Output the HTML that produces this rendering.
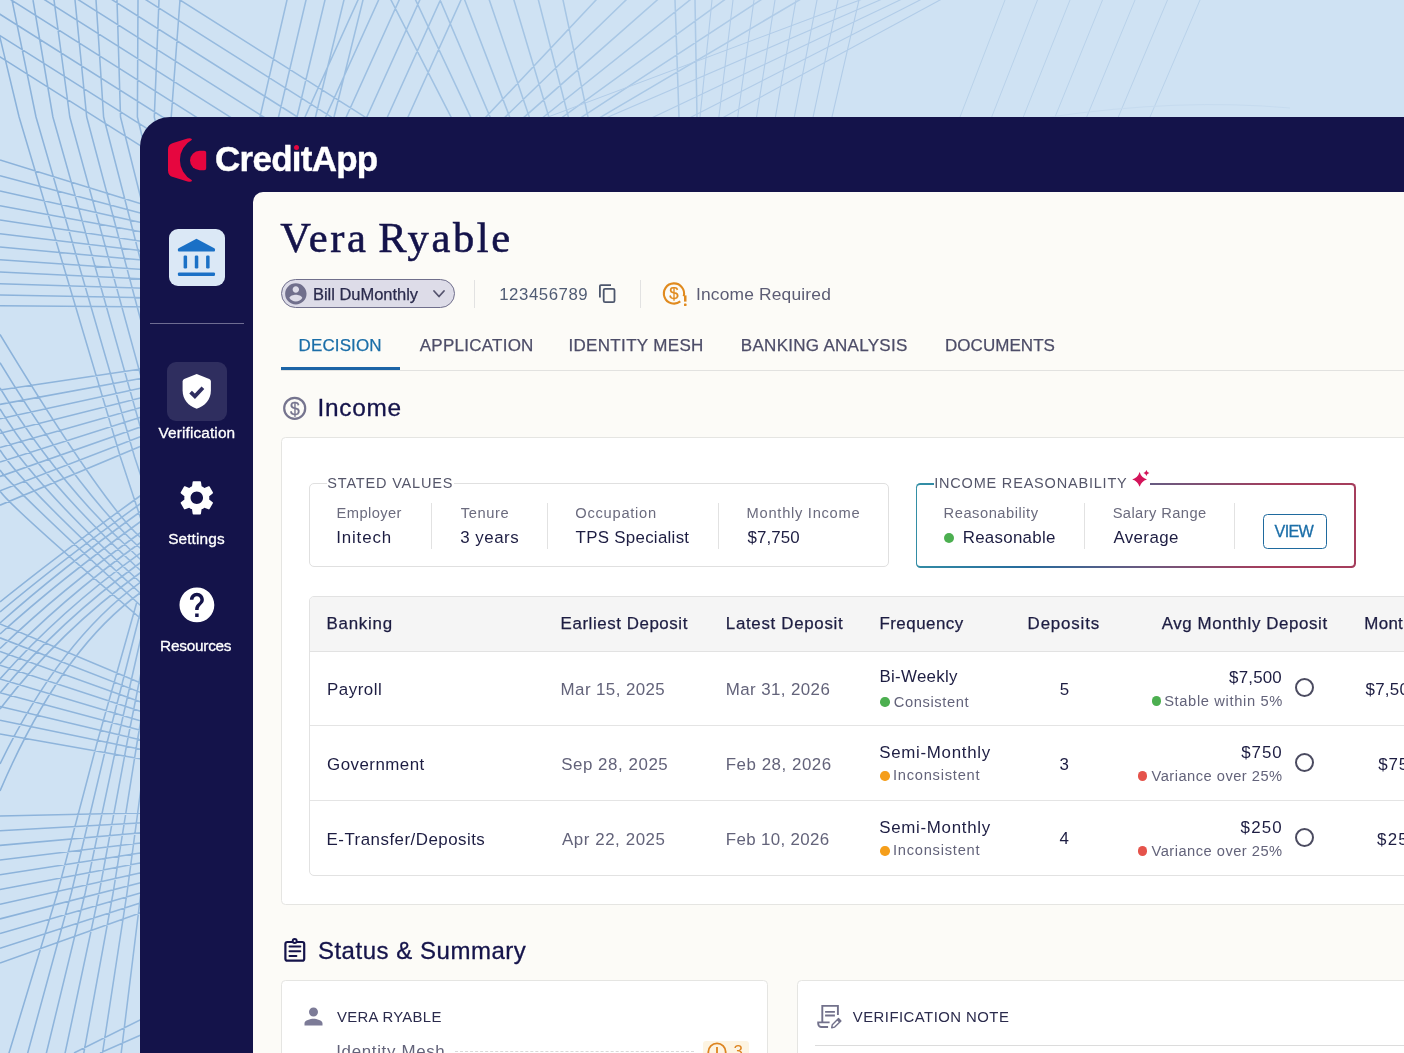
<!DOCTYPE html>
<html lang="en"><head><meta charset="utf-8"><title>CreditApp - Vera Ryable</title>
<style>
html,body{margin:0;padding:0;background:#cfe2f3;}
body{width:1404px;height:1053px;overflow:hidden;position:relative;font-family:"Liberation Sans",sans-serif;}
#app{position:absolute;left:0;top:0;width:1404px;height:1053px;overflow:hidden;}
.t{position:absolute;white-space:nowrap;line-height:1;}
.b{position:absolute;box-sizing:border-box;}
.card{position:absolute;box-sizing:border-box;background:#fff;border:1px solid #e5e5e2;border-radius:4.500px;}
.vs{position:absolute;width:1px;background:#e2e2e2;}
.dot{position:absolute;border-radius:50%;}
.radio{position:absolute;box-sizing:border-box;width:19.100px;height:19.100px;border:2px solid #4b4b60;border-radius:50%;}
svg{position:absolute;overflow:visible;}
</style></head><body><div id="app">

<svg style="left:0;top:0" width="1404" height="1053" viewBox="0 0 1404 1053"><defs><linearGradient id="lg" gradientUnits="userSpaceOnUse" x1="0" y1="0" x2="1000" y2="0"><stop offset="0" stop-color="#8bb2da"/><stop offset="0.300" stop-color="#9abde0"/><stop offset="0.600" stop-color="#a8c7e5"/><stop offset="1" stop-color="#bad2eb"/></linearGradient></defs><path d="M0.0 160.0L161.0 210.0M0.0 175.8L161.0 218.5M0.0 191.0L161.0 227.0M0.0 205.8L161.0 235.6M0.0 220.0L161.0 244.3M0.0 233.8L161.0 253.0M0.0 247.0L161.0 261.8M0.0 259.8L161.0 270.7M0.0 272.0L161.0 279.7M0.0 283.8L161.0 288.8M0.0 295.0L161.0 297.9M0.0 305.8L161.0 307.1M0.0 390.0L161.0 365.9M0.0 404.4L161.0 374.8M0.0 418.8L161.0 383.8M0.0 433.2L161.0 392.8M0.0 447.6L161.0 401.8M0.0 462.0L161.0 410.8M0.0 476.4L161.0 419.8M0.0 490.8L161.0 428.8M0.0 505.2L161.0 437.8M0.0 624.0L161.0 691.5M0.0 637.8L161.0 700.4M0.0 651.5L161.0 709.2M0.0 665.2L161.0 718.1M0.0 679.0L161.0 727.0M0.0 692.8L161.0 735.8M0.0 706.5L161.0 744.7M0.0 720.2L161.0 753.5M0.0 734.0L161.0 762.4M0.0 816.0L161.0 812.5M0.0 830.7L161.0 821.8M0.0 845.4L161.0 831.1M0.0 860.1L161.0 840.4M0.0 874.8L161.0 849.7M0.0 889.5L161.0 859.0M0.0 904.2L161.0 868.3M0.0 918.9L161.0 877.6M0.0 933.6L161.0 886.9M0.0 948.3L161.0 896.2M0.0 963.0L161.0 905.5M74.0 1053.0L150.0 1015.0M100.0 1053.0L150.0 1031.0M-182.5 -58.5L206.0 187.2M-148.8 -58.5L239.8 187.2M-115.0 -58.5L273.5 187.2M-81.2 -58.5L307.2 187.2M-47.5 -58.5L341.0 187.2M-13.8 -58.5L374.8 187.2M20.0 -58.5L408.5 187.2M53.8 -58.5L442.2 187.2M87.5 -58.5L476.0 187.2M300.5 -58.5L243.8 187.2M319.8 -58.5L262.0 187.2M339.0 -58.5L280.2 187.2M358.2 -58.5L298.4 187.2M377.5 -58.5L316.6 187.2M384.5 -58.5L273.2 187.2M405.1 -58.5L293.8 187.2M425.7 -58.5L314.4 187.2M446.3 -58.5L335.0 187.2M466.9 -58.5L355.6 187.2M487.5 -58.5L376.2 187.2M361.0 -58.5L487.0 187.2M388.1 -58.5L503.6 187.2M415.1 -58.5L520.1 187.2M442.2 -58.5L536.7 187.2M469.3 -58.5L553.3 187.2M496.4 -58.5L569.9 187.2M523.4 -58.5L586.4 187.2M550.5 -58.5L603.0 187.2M651.0 -58.5L420.0 187.2M677.4 -49.8L436.3 183.7M703.8 -41.0L452.5 180.2M730.2 -32.2L468.8 176.7M756.7 -23.5L485.1 173.2M783.1 -14.7L501.3 169.7M809.5 -6.0L517.6 166.2M673.0 -58.5L681.4 187.2M694.0 -58.5L698.2 187.2M-9.0 0.0L19.1 117.0L120.4 457.0L186.4 657.0M12.0 0.0L36.0 117.0L134.6 457.0L200.6 657.0M33.0 0.0L52.9 117.0L148.8 457.0L214.8 657.0M54.0 0.0L69.8 117.0L163.0 457.0L229.0 657.0M75.0 0.0L86.7 117.0L177.1 457.0L243.1 657.0M96.0 0.0L103.6 117.0L191.3 457.0L257.3 657.0M117.0 0.0L120.5 117.0L205.5 457.0L271.5 657.0M138.0 0.0L137.4 117.0L219.7 457.0L285.7 657.0M159.0 0.0L154.3 117.0L233.9 457.0L299.9 657.0M180.0 0.0L171.2 117.0L248.0 457.0L314.0 657.0M136.6 603.0L97.0 743.0L57.4 893.0L9.0 1053.0L4.6 1070.0M142.7 603.0L107.0 743.0L71.3 893.0L27.7 1053.0L23.7 1070.0M148.8 603.0L117.0 743.0L85.2 893.0L46.4 1053.0L42.9 1070.0M154.9 603.0L127.0 743.0L99.1 893.0L65.1 1053.0L62.0 1070.0M160.9 603.0L137.0 743.0L113.1 893.0L83.8 1053.0L81.1 1070.0M167.0 603.0L147.0 743.0L127.0 893.0L102.5 1053.0L100.3 1070.0M173.1 603.0L157.0 743.0L140.9 893.0L121.2 1053.0L119.4 1070.0M0 334.5Q101.0 501.1 140 537.0L170 564.6M0 362.7Q77.4 490.4 140 548.0L170 575.6M0 388.0Q57.8 483.4 140 559.0L170 586.6M0 409.0Q44.1 481.8 140 570.0L170 597.6M0 429.0Q33.2 483.7 140 582.0L170 609.6M0 450.0Q19.5 482.1 140 593.0L170 620.6M0 470.0Q8.5 484.0 140 605.0L170 632.6M0 491.0Q8.0 504.2 140 618.0L170 645.6M175 470.8L140 496.0Q60 553.6 0 602.0M175 478.8L140 504.0Q60 561.6 0 612.0M175 486.8L140 512.0Q60 569.6 0 623.0M175 496.8L140 522.0Q60 579.6 0 634.0M175 507.8L140 533.0Q60 590.6 0 648.5M175 517.8L140 543.0Q60 600.6 0 663.7M175 528.2L140 553.4Q60 611.0 0 679.0M175 537.8L140 563.0Q60 620.6 0 693.0M175 547.8L140 573.0Q60 630.6 0 709.0M175 557.4L140 582.6Q60 640.2 0 764.0M175 567.8L140 593.0Q60 650.6 0 791.0" fill="none" stroke="url(#lg)" stroke-width="1.550" stroke-linejoin="round"/><path d="M727.6 -152.1L692.8 187.2M751.4 -152.1L710.4 187.2M775.2 -152.1L727.9 187.2M799.0 -152.1L745.5 187.2M822.7 -152.1L763.1 187.2M846.5 -152.1L780.7 187.2M870.3 -152.1L798.2 187.2M894.1 -152.1L815.8 187.2M492.0 138.0L956.0 -36.0M466.0 178.2L988.0 -46.5M440.0 218.5L1020.0 -57.0M414.0 258.8L1052.0 -67.5M388.0 299.0L1084.0 -78.0" fill="none" stroke="#b1cce8" stroke-width="1.100"/><path d="M1005.0 0.0L960.0 117.0M1037.5 0.0L991.7 117.0M1070.0 0.0L1023.3 117.0M1102.5 0.0L1055.0 117.0M1135.0 0.0L1086.7 117.0M1167.5 0.0L1118.3 117.0M1200.0 0.0L1150.0 117.0" fill="none" stroke="#b9d2ea" stroke-width="1"/><path d="M1050 117Q1180 98 1290 108" fill="none" stroke="#c6dbef" stroke-width="1"/></svg>
<div class="b" id="win" style="left:140.400px;top:117px;width:1300px;height:1000px;background:#14134a;border-radius:30px 0 0 0;"></div>
<!--SIDEBAR-->
<div class="b" style="left:168.5px;top:229px;width:56.5px;height:56.5px;background:#dbe8f6;border-radius:9px;"></div>
<svg style="left:160px;top:220px" width="80" height="80" viewBox="0 0 80 80"><path fill="#1a70c6" d="M36.500 18.800L18.600 28.200Q17.900 28.600 17.900 29.400V30.400Q17.900 31.500 19 31.500H54Q55 31.500 55 30.400V29.400Q55 28.600 54.300 28.200Z"/><rect x="23.600" y="35.600" width="3.500" height="12.900" rx="1.200" fill="#1a70c6"/><rect x="34.800" y="35.600" width="3.500" height="12.900" rx="1.200" fill="#1a70c6"/><rect x="46.100" y="35.600" width="3.500" height="12.900" rx="1.200" fill="#1a70c6"/><rect x="17.900" y="52.400" width="37.100" height="3.500" rx="1.200" fill="#1a70c6"/></svg>
<div class="b" style="left:150px;top:323px;width:93.5px;height:1px;background:#6e6d92;"></div>
<div class="b" style="left:167px;top:362px;width:59.5px;height:59px;background:#2f2e5f;border-radius:9px;"></div>
<svg style="left:156px;top:350px" width="80" height="80" viewBox="0 0 80 80"><path fill="#fff" d="M40.700 23.900L28.200 29Q26.600 29.700 26.600 31.500V40.500C26.600 49.500 32.500 56.300 40.700 58.700C48.900 56.300 54.900 49.500 54.900 40.500V31.500Q54.900 29.700 53.300 29Z"/><path d="M34.600 42.200L38.900 46.400L46.900 37.800" fill="none" stroke="#2f2e60" stroke-width="3.800" stroke-linejoin="miter"/></svg>
<svg style="left:175.900px;top:477.200px" width="41.600" height="41.600" viewBox="0 0 24 24"><path fill="#fff" d="M19.14 12.94c.04-.3.06-.61.06-.94 0-.32-.02-.64-.07-.94l2.03-1.58c.18-.14.23-.41.12-.61l-1.92-3.32c-.12-.22-.37-.29-.59-.22l-2.39.96c-.5-.38-1.03-.7-1.62-.94l-.36-2.54c-.04-.24-.24-.41-.48-.41h-3.84c-.24 0-.43.17-.47.41l-.36 2.54c-.59.24-1.13.57-1.62.94l-2.39-.96c-.22-.08-.47 0-.59.22L2.74 8.87c-.12.21-.08.47.12.61l2.03 1.58c-.05.3-.09.63-.09.94s.02.64.07.94l-2.03 1.58c-.18.14-.23.41-.12.61l1.92 3.32c.12.22.37.29.59.22l2.39-.96c.5.38 1.03.7 1.62.94l.36 2.54c.05.24.24.41.48.41h3.84c.24 0 .44-.17.47-.41l.36-2.54c.59-.24 1.13-.56 1.62-.94l2.39.96c.22.08.47 0 .59-.22l1.92-3.32c.12-.22.07-.47-.12-.61l-2.01-1.58zM12 15.6c-1.98 0-3.6-1.62-3.6-3.6s1.62-3.6 3.6-3.6 3.6 1.62 3.6 3.6-1.62 3.6-3.6 3.6z"/></svg>
<svg style="left:175.700px;top:583.500px" width="41.800" height="41.800" viewBox="0 0 24 24"><path fill="#fff" d="M12 2C6.48 2 2 6.48 2 12s4.48 10 10 10 10-4.48 10-10S17.52 2 12 2zm1 17h-2v-2h2v2zm2.07-7.75l-.9.92C13.45 12.9 13 13.5 13 15h-2v-.5c0-1.1.45-2.1 1.17-2.83l1.24-1.26c.37-.36.59-.86.59-1.41 0-1.1-.9-2-2-2s-2 .9-2 2H8c0-2.21 1.79-4 4-4s4 1.79 4 4c0 .88-.36 1.68-.93 2.25z"/></svg>
<!--LOGO-->
<svg style="left:160px;top:130px" width="80" height="60" viewBox="0 0 80 60"><path fill="#e6063f" d="M8 19.500Q8 14.200 13 12.900L27.500 8.600Q31.800 7.400 32 9.800A22.900 22.900 0 0 0 32 50.200Q31.800 52.600 27.500 51.400L13 47.100Q8 45.800 8 40.500Z"/><path fill="#e6063f" d="M46.200 22.800Q46.200 20.800 44.200 20.800H39.700A9.700 9.700 0 0 0 39.700 40.200H44.200Q46.200 40.200 46.200 38.200Z"/></svg>
<!--PANEL-->
<div class="b" id="panel" style="left:252.5px;top:192px;width:1200px;height:900px;background:#fcfbf7;border-radius:10px 0 0 0;"></div>
<!--PILL-->
<div class="b" style="left:281px;top:279.300px;width:174px;height:28.300px;background:#dddce8;border:1.400px solid #706f8c;border-radius:15px;"></div>
<svg style="left:283.150px;top:280.650px" width="25.700" height="25.700" viewBox="0 0 24 24"><path fill="#706f8c" d="M12 2C6.48 2 2 6.48 2 12s4.48 10 10 10 10-4.48 10-10S17.52 2 12 2zm0 3c1.66 0 3 1.34 3 3s-1.34 3-3 3-3-1.34-3-3 1.34-3 3-3zm0 14.2c-2.5 0-4.710-1.280-6-3.220.03-1.990 4-3.080 6-3.080 1.990 0 5.970 1.090 6 3.080-1.290 1.940-3.500 3.220-6 3.220z"/></svg>
<svg style="left:432px;top:288px" width="14" height="12" viewBox="0 0 14 12"><path d="M2 3 L7 8.500 L12 3" fill="none" stroke="#55546e" stroke-width="1.800" stroke-linecap="round" stroke-linejoin="round"/></svg>
<div class="vs" style="left:474px;top:280px;height:28px;"></div>
<svg style="left:590px;top:274px" width="40" height="40" viewBox="0 0 40 40"><path d="M9.900 23.500V12.100Q9.900 11.100 10.900 11.100H21" fill="none" stroke="#4c566c" stroke-width="1.800"/><rect x="13.700" y="14.900" width="10.800" height="13.200" rx="1.400" fill="none" stroke="#4c566c" stroke-width="1.800"/></svg>
<div class="vs" style="left:640px;top:280px;height:28px;"></div>
<svg style="left:650px;top:274px" width="50" height="40" viewBox="0 0 50 40"><path d="M33.700 22.300A10.100 10.100 0 1 0 30.300 27.400" fill="none" stroke="#e08a1e" stroke-width="2.100"/><text x="23.800" y="25.400" text-anchor="middle" font-family="Liberation Sans, sans-serif" font-size="16.800" fill="#e08a1e" stroke="#e08a1e" stroke-width="0.250">$</text><rect x="34" y="21.400" width="2.500" height="6.200" fill="#e08a1e"/><rect x="34" y="29.600" width="2.500" height="2.500" rx="0.600" fill="#e08a1e"/></svg>
<!--TABS-->
<div class="b" style="left:281px;top:370px;width:1200px;height:1px;background:#e2e2e0;"></div>
<div class="b" style="left:281px;top:367.400px;width:119px;height:2.800px;background:#1c64a6;"></div>
<!--INCOME HEADING ICON-->
<svg style="left:276px;top:385px" width="50" height="50" viewBox="0 0 50 50"><circle cx="18.700" cy="23.300" r="10.500" fill="none" stroke="#75748e" stroke-width="2.200"/><text x="18.800" y="29.600" text-anchor="middle" font-family="Liberation Sans, sans-serif" font-size="17.500" fill="#75748e" stroke="#75748e" stroke-width="0.300">$</text></svg>
<!--INCOME CARD-->
<div class="card" style="left:281px;top:437px;width:1200px;height:467.500px;"></div>
<!--STATED VALUES-->
<div class="b" style="left:309px;top:483px;width:579.500px;height:84.300px;border:1px solid #e0e0e0;border-radius:5px;"></div>
<div class="b" style="left:326.500px;top:480px;width:127.500px;height:10px;background:#fff;"></div>
<div class="vs" style="left:431px;top:502.500px;height:46.500px;"></div>
<div class="vs" style="left:547px;top:502.500px;height:46.500px;"></div>
<div class="vs" style="left:717.500px;top:502.500px;height:46.500px;"></div>
<!--INCOME REASONABILITY-->
<div class="b" style="left:915.900px;top:483.200px;width:439.900px;height:84.400px;border-radius:4.500px;background:linear-gradient(100deg,#3490a6 0%,#276a9c 28%,#6a5a80 53%,#a53d5c 80%,#a53d5c 100%);"></div>
<div class="b" style="left:917.300px;top:484.600px;width:437.100px;height:81.600px;border-radius:3.200px;background:#fff;"></div>
<div class="b" style="left:934.300px;top:478px;width:216px;height:12px;background:#fff;"></div>
<svg style="left:1100px;top:460px" width="80" height="40" viewBox="0 0 80 40"><path fill="#d4145a" d="M39.6 11.999999999999998Q41.300000000000004 17.7 47.0 19.4Q41.300000000000004 21.099999999999998 39.6 26.799999999999997Q37.9 21.099999999999998 32.2 19.4Q37.9 17.7 39.6 11.999999999999998ZM46.4 10.1Q47.0 12.5 49.4 13.1Q47.0 13.7 46.4 16.1Q45.8 13.7 43.4 13.1Q45.8 12.5 46.4 10.1Z"/></svg>
<div class="dot" style="left:944px;top:532.500px;width:10px;height:10px;background:#4caf50;"></div>
<div class="vs" style="left:1084px;top:502.500px;height:46.500px;"></div>
<div class="vs" style="left:1233.500px;top:502.500px;height:46.500px;"></div>
<div class="b" style="left:1262.600px;top:513.500px;width:64px;height:35.100px;border:1.800px solid #1f6a9e;border-radius:4.500px;"></div>
<!--TABLE-->
<div class="b" style="left:309px;top:595.500px;width:1200px;height:280.400px;border:1px solid #e2e2e2;border-radius:5px 0 0 5px;background:#fff;overflow:hidden;">
<div class="b" style="left:0;top:0;width:1200px;height:55px;background:#f5f5f5;border-bottom:1px solid #e2e2e2;"></div>
<div class="b" style="left:0;top:128.600px;width:1200px;height:1px;background:#e4e4e4;"></div>
<div class="b" style="left:0;top:203.800px;width:1200px;height:1px;background:#e4e4e4;"></div>
</div>
<div class="dot" style="left:880px;top:697.200px;width:9.500px;height:9.500px;background:#4caf50;"></div>
<div class="dot" style="left:880px;top:771px;width:9.500px;height:9.500px;background:#f59e1b;"></div>
<div class="dot" style="left:880px;top:846px;width:9.500px;height:9.500px;background:#f59e1b;"></div>
<div class="dot" style="left:1151.500px;top:696px;width:9.500px;height:9.500px;background:#4caf50;"></div>
<div class="dot" style="left:1137.500px;top:771px;width:9.500px;height:9.500px;background:#e5534b;"></div>
<div class="dot" style="left:1137.500px;top:846px;width:9.500px;height:9.500px;background:#e5534b;"></div>
<div class="radio" style="left:1295.100px;top:678.200px;"></div>
<div class="radio" style="left:1295.100px;top:753.200px;"></div>
<div class="radio" style="left:1295.100px;top:828.200px;"></div>
<!--STATUS HEADING ICON-->
<svg style="left:276px;top:930px" width="60" height="45" viewBox="0 0 60 45"><g fill="none" stroke="#14134a"><rect x="9.400" y="12" width="18.800" height="18.700" rx="2" stroke-width="2.200"/><circle cx="18.700" cy="11" r="2" stroke-width="1.900" fill="#fcfbf7"/><path d="M13.500 16.500H24.300M13.500 21.200H24.300M13.500 25.900H20.400" stroke-width="2" stroke-linecap="round"/></g></svg>
<!--BOTTOM CARDS-->
<div class="card" style="left:281px;top:979.500px;width:487px;height:200px;"></div>
<div class="card" style="left:796.500px;top:979.500px;width:700px;height:200px;"></div>
<svg style="left:300px;top:1003px" width="27" height="27" viewBox="0 0 24 24"><path fill="#7c7b97" d="M12 12c2.210 0 4-1.790 4-4s-1.790-4-4-4-4 1.790-4 4 1.790 4 4 4zm0 2c-2.670 0-8 1.340-8 4v2h16v-2c0-2.660-5.330-4-8-4z"/></svg>
<div class="b" style="left:455px;top:1050.500px;width:239px;height:0;border-top:1.500px dashed #d9d9d9;"></div>
<div class="b" style="left:703px;top:1040.500px;width:45.500px;height:20px;background:#fdf4e2;border-radius:3px;"></div>
<svg style="left:706.500px;top:1041.500px" width="20" height="20" viewBox="0 0 20 20"><circle cx="10" cy="10" r="8.700" fill="none" stroke="#dd8420" stroke-width="1.800"/><rect x="9.100" y="5" width="1.800" height="6.500" fill="#dd8420"/></svg>
<svg style="left:805px;top:995px" width="60" height="45" viewBox="0 0 60 45"><g fill="none" stroke="#72718b" stroke-width="1.900"><path d="M17.300 27.400V10.900H32.900V20.100"/><path d="M24.600 27.400H13.200V28.800a3.200 3.200 0 0 0 3.200 3.200H23.100"/><path d="M20.100 16.900H29.900M20.100 20.500H29.900" stroke-width="1.800"/><path d="M26.700 32.700l0.600-3 6.200-6.200 2.400 2.400-6.200 6.200z" stroke-width="1.400" stroke-linejoin="round"/></g><path d="M31.800 25.200l1.700-1.700 2.400 2.400-1.700 1.700z" fill="#72718b"/></svg>
<div class="b" style="left:814.500px;top:1045px;width:700px;height:1px;background:#dcdcdc;"></div>
<span class="t" id="t0" style="left:215.09px;top:141.47px;font-size:35px;color:#fff;font-weight:700;letter-spacing:-0.749px;-webkit-text-stroke:0.4px #fff;">CreditApp</span>
<span class="t" id="t1" style="left:158.43px;top:425.26px;font-size:15.4px;color:#fff;letter-spacing:0.132px;-webkit-text-stroke:0.3px #fff;">Verification</span>
<span class="t" id="t2" style="left:168.19px;top:530.66px;font-size:15.4px;color:#fff;letter-spacing:0.111px;-webkit-text-stroke:0.3px #fff;">Settings</span>
<span class="t" id="t3" style="left:160.11px;top:638.26px;font-size:15.4px;color:#fff;letter-spacing:-0.263px;-webkit-text-stroke:0.3px #fff;">Resources</span>
<span class="t" id="t4" style="left:280.27px;top:217.22px;font-size:42.6px;color:#14134a;font-family:'Liberation Serif',serif;letter-spacing:2.568px;word-spacing:-3.500px;-webkit-text-stroke:0.55px #14134a;">Vera Ryable</span>
<span class="t" id="t5" style="left:312.97px;top:285.93px;font-size:16.5px;color:#2a2a4c;letter-spacing:-0.029px;-webkit-text-stroke:0.25px;">Bill DuMonthly</span>
<span class="t" id="t6" style="left:499.21px;top:286.98px;font-size:16.8px;color:#505c74;letter-spacing:0.561px;">123456789</span>
<span class="t" id="t7" style="left:696.03px;top:285.67px;font-size:17.4px;color:#5c5c74;letter-spacing:0.168px;">Income Required</span>
<span class="t" id="t8" style="left:298.60px;top:336.81px;font-size:17px;color:#1b6ea8;letter-spacing:0.109px;-webkit-text-stroke:0.25px;">DECISION</span>
<span class="t" id="t9" style="left:419.72px;top:336.81px;font-size:17px;color:#4d4d68;letter-spacing:0.251px;-webkit-text-stroke:0.25px;">APPLICATION</span>
<span class="t" id="t10" style="left:568.45px;top:336.81px;font-size:17px;color:#4d4d68;letter-spacing:0.329px;-webkit-text-stroke:0.25px;">IDENTITY MESH</span>
<span class="t" id="t11" style="left:740.83px;top:336.81px;font-size:17px;color:#4d4d68;letter-spacing:0.287px;-webkit-text-stroke:0.25px;">BANKING ANALYSIS</span>
<span class="t" id="t12" style="left:945.00px;top:336.81px;font-size:17px;color:#4d4d68;letter-spacing:0.046px;-webkit-text-stroke:0.25px;">DOCUMENTS</span>
<span class="t" id="t13" style="left:317.44px;top:395.75px;font-size:24.4px;color:#14134a;letter-spacing:0.720px;-webkit-text-stroke:0.3px;">Income</span>
<span class="t" id="t14" style="left:327.35px;top:475.93px;font-size:14.5px;color:#55566a;letter-spacing:0.818px;">STATED VALUES</span>
<span class="t" id="t15" style="left:336.60px;top:506.26px;font-size:14.7px;color:#6b6b7e;letter-spacing:0.410px;">Employer</span>
<span class="t" id="t16" style="left:336.19px;top:529.79px;font-size:16.9px;color:#1d1d42;letter-spacing:0.853px;">Initech</span>
<span class="t" id="t17" style="left:460.68px;top:506.26px;font-size:14.7px;color:#6b6b7e;letter-spacing:0.611px;">Tenure</span>
<span class="t" id="t18" style="left:460.32px;top:529.79px;font-size:16.9px;color:#1d1d42;letter-spacing:0.480px;">3 years</span>
<span class="t" id="t19" style="left:575.34px;top:506.26px;font-size:14.7px;color:#6b6b7e;letter-spacing:0.727px;">Occupation</span>
<span class="t" id="t20" style="left:575.59px;top:529.79px;font-size:16.9px;color:#1d1d42;letter-spacing:0.281px;">TPS Specialist</span>
<span class="t" id="t21" style="left:746.60px;top:506.26px;font-size:14.7px;color:#6b6b7e;letter-spacing:0.720px;">Monthly Income</span>
<span class="t" id="t22" style="left:747.52px;top:529.79px;font-size:16.9px;color:#1d1d42;letter-spacing:0.100px;">$7,750</span>
<span class="t" id="t23" style="left:934.20px;top:475.93px;font-size:14.5px;color:#55566a;letter-spacing:0.808px;">INCOME REASONABILITY</span>
<span class="t" id="t24" style="left:943.60px;top:506.26px;font-size:14.7px;color:#6b6b7e;letter-spacing:0.521px;">Reasonability</span>
<span class="t" id="t25" style="left:962.73px;top:529.79px;font-size:16.9px;color:#1d1d42;letter-spacing:0.274px;">Reasonable</span>
<span class="t" id="t26" style="left:1112.66px;top:506.26px;font-size:14.7px;color:#6b6b7e;letter-spacing:0.410px;">Salary Range</span>
<span class="t" id="t27" style="left:1113.38px;top:529.79px;font-size:16.9px;color:#1d1d42;letter-spacing:0.394px;">Average</span>
<span class="t" id="t28" style="left:1274.55px;top:522.59px;font-size:16.2px;color:#1b6ea8;letter-spacing:-0.686px;-webkit-text-stroke:0.3px;">VIEW</span>
<span class="t" id="t29" style="left:326.60px;top:616.39px;font-size:16.9px;color:#1d1d42;letter-spacing:0.738px;-webkit-text-stroke:0.25px #1d1d42;">Banking</span>
<span class="t" id="t30" style="left:560.60px;top:616.39px;font-size:16.9px;color:#1d1d42;letter-spacing:0.564px;-webkit-text-stroke:0.25px #1d1d42;">Earliest Deposit</span>
<span class="t" id="t31" style="left:725.83px;top:616.39px;font-size:16.9px;color:#1d1d42;letter-spacing:0.682px;-webkit-text-stroke:0.25px #1d1d42;">Latest Deposit</span>
<span class="t" id="t32" style="left:879.43px;top:616.39px;font-size:16.9px;color:#1d1d42;letter-spacing:0.502px;-webkit-text-stroke:0.25px #1d1d42;">Frequency</span>
<span class="t" id="t33" style="left:1027.60px;top:616.39px;font-size:16.9px;color:#1d1d42;letter-spacing:0.835px;-webkit-text-stroke:0.25px #1d1d42;">Deposits</span>
<span class="t" id="t34" style="left:1161.72px;top:616.39px;font-size:16.9px;color:#1d1d42;letter-spacing:0.599px;-webkit-text-stroke:0.25px #1d1d42;">Avg Monthly Deposit</span>
<span class="t" id="t35" style="left:1364.35px;top:616.39px;font-size:16.9px;color:#1d1d42;letter-spacing:0.297px;-webkit-text-stroke:0.25px #1d1d42;">Monthly Income</span>
<span class="t" id="t36" style="left:327.05px;top:681.89px;font-size:16.9px;color:#1d1d42;letter-spacing:0.501px;">Payroll</span>
<span class="t" id="t37" style="left:560.59px;top:681.99px;font-size:16.9px;color:#63637a;letter-spacing:0.422px;">Mar 15, 2025</span>
<span class="t" id="t38" style="left:725.74px;top:681.99px;font-size:16.9px;color:#63637a;letter-spacing:0.413px;">Mar 31, 2026</span>
<span class="t" id="t39" style="left:879.53px;top:668.79px;font-size:16.9px;color:#1d1d42;letter-spacing:0.274px;">Bi-Weekly</span>
<span class="t" id="t40" style="left:893.80px;top:694.56px;font-size:14.7px;color:#63637a;letter-spacing:0.604px;">Consistent</span>
<span class="t" id="t41" style="left:1059.77px;top:681.99px;font-size:16.9px;color:#1d1d42;">5</span>
<span class="t" id="t42" style="left:1229.04px;top:670.09px;font-size:16.9px;color:#1d1d42;letter-spacing:0.206px;">$7,500</span>
<span class="t" id="t43" style="left:1164.14px;top:693.56px;font-size:14.7px;color:#63637a;letter-spacing:0.640px;">Stable within 5%</span>
<span class="t" id="t44" style="left:1365.53px;top:682.19px;font-size:16.9px;color:#1d1d42;letter-spacing:0.270px;">$7,500</span>
<span class="t" id="t45" style="left:327.07px;top:757.29px;font-size:16.9px;color:#1d1d42;letter-spacing:0.468px;">Government</span>
<span class="t" id="t46" style="left:561.13px;top:757.29px;font-size:16.9px;color:#63637a;letter-spacing:0.556px;">Sep 28, 2025</span>
<span class="t" id="t47" style="left:725.74px;top:757.29px;font-size:16.9px;color:#63637a;letter-spacing:0.532px;">Feb 28, 2026</span>
<span class="t" id="t48" style="left:879.24px;top:744.89px;font-size:16.9px;color:#1d1d42;letter-spacing:0.697px;">Semi-Monthly</span>
<span class="t" id="t49" style="left:892.88px;top:768.26px;font-size:14.7px;color:#63637a;letter-spacing:0.756px;">Inconsistent</span>
<span class="t" id="t50" style="left:1059.46px;top:757.29px;font-size:16.9px;color:#1d1d42;">3</span>
<span class="t" id="t51" style="left:1241.23px;top:745.09px;font-size:16.9px;color:#1d1d42;letter-spacing:0.976px;">$750</span>
<span class="t" id="t52" style="left:1151.54px;top:769.46px;font-size:14.7px;color:#63637a;letter-spacing:0.474px;">Variance over 25%</span>
<span class="t" id="t53" style="left:1378.13px;top:757.29px;font-size:16.9px;color:#1d1d42;letter-spacing:0.981px;">$750</span>
<span class="t" id="t54" style="left:326.57px;top:832.29px;font-size:16.9px;color:#1d1d42;letter-spacing:0.483px;">E-Transfer/Deposits</span>
<span class="t" id="t55" style="left:561.89px;top:832.29px;font-size:16.9px;color:#63637a;letter-spacing:0.579px;">Apr 22, 2025</span>
<span class="t" id="t56" style="left:725.74px;top:832.29px;font-size:16.9px;color:#63637a;letter-spacing:0.351px;">Feb 10, 2026</span>
<span class="t" id="t57" style="left:879.24px;top:819.89px;font-size:16.9px;color:#1d1d42;letter-spacing:0.697px;">Semi-Monthly</span>
<span class="t" id="t58" style="left:892.88px;top:843.26px;font-size:14.7px;color:#63637a;letter-spacing:0.756px;">Inconsistent</span>
<span class="t" id="t59" style="left:1059.50px;top:831.29px;font-size:16.9px;color:#1d1d42;">4</span>
<span class="t" id="t60" style="left:1240.56px;top:820.09px;font-size:16.9px;color:#1d1d42;letter-spacing:1.199px;">$250</span>
<span class="t" id="t61" style="left:1151.54px;top:844.46px;font-size:14.7px;color:#63637a;letter-spacing:0.474px;">Variance over 25%</span>
<span class="t" id="t62" style="left:1377.03px;top:832.29px;font-size:16.9px;color:#1d1d42;letter-spacing:1.248px;">$250</span>
<span class="t" id="t63" style="left:317.90px;top:938.88px;font-size:24px;color:#14134a;letter-spacing:0.527px;-webkit-text-stroke:0.3px;">Status &amp; Summary</span>
<span class="t" id="t64" style="left:336.96px;top:1010.29px;font-size:14.9px;color:#2a2a4c;letter-spacing:0.320px;">VERA RYABLE</span>
<span class="t" id="t65" style="left:336.21px;top:1043.69px;font-size:16.9px;color:#63637a;letter-spacing:0.676px;">Identity Mesh</span>
<span class="t" id="t66" style="left:733.53px;top:1043.99px;font-size:16.9px;color:#dd8420;">3</span>
<span class="t" id="t67" style="left:852.83px;top:1010.29px;font-size:14.9px;color:#2a2a4c;letter-spacing:0.461px;">VERIFICATION NOTE</span>
<div class="b" style="left:293.500px;top:144px;width:6px;height:5.700px;background:#14134a;"></div><div class="dot" style="left:293.900px;top:144.500px;width:5.300px;height:5.300px;background:#e6063f;"></div></div></body></html>
